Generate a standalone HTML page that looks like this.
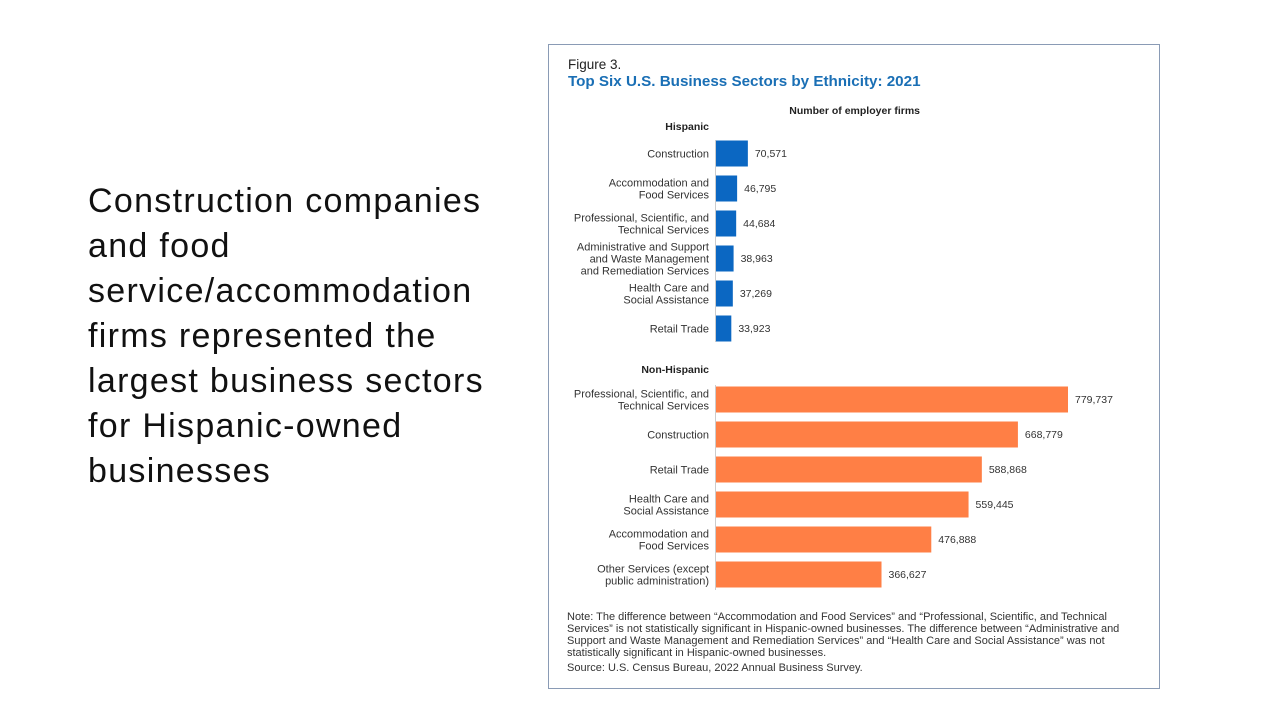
<!DOCTYPE html>
<html><head><meta charset="utf-8"><style>
body{margin:0;width:1280px;height:720px;background:#fff;overflow:hidden;position:relative;font-family:"Liberation Sans",sans-serif}
#lead{position:absolute;left:88px;top:179px;width:425px;font-size:34px;line-height:45px;color:#111;letter-spacing:1.3px}
#fig{position:absolute;left:548px;top:44px;width:612px;height:645px;border:1px solid #8a9bb5;box-sizing:border-box}
svg text{font-family:"Liberation Sans",sans-serif}
</style></head><body>
<div id="lead">Construction companies and food service/accommodation firms represented the largest business sectors for Hispanic-owned businesses</div>
<div id="fig"></div>
<svg id="chart" width="1280" height="720" style="position:absolute;left:0;top:0">
<text x="568" y="69" font-size="13.5" fill="#222">Figure 3.</text>
<text x="568" y="86" font-size="15.2" font-weight="bold" fill="#1a6fb5">Top Six U.S. Business Sectors by Ethnicity: 2021</text>
<text x="920" y="114" font-size="10.5" font-weight="bold" fill="#222" text-anchor="end">Number of employer firms</text>
<text x="709" y="130" font-size="10.5" font-weight="bold" fill="#222" text-anchor="end">Hispanic</text>
<text x="709" y="373" font-size="10.5" font-weight="bold" fill="#222" text-anchor="end">Non-Hispanic</text>
<line x1="715.5" y1="140" x2="715.5" y2="342" stroke="#ccc"/>
<line x1="715.5" y1="385" x2="715.5" y2="590" stroke="#ccc"/>
<g id="bars"></g>
<text font-size="11" fill="#333">
<tspan x="567" y="620">Note: The difference between “Accommodation and Food Services” and “Professional, Scientific, and Technical</tspan>
<tspan x="567" y="632">Services” is not statistically significant in Hispanic-owned businesses. The difference between “Administrative and</tspan>
<tspan x="567" y="644">Support and Waste Management and Remediation Services” and “Health Care and Social Assistance” was not</tspan>
<tspan x="567" y="656">statistically significant in Hispanic-owned businesses.</tspan>
</text>
<text x="567" y="671" font-size="11" fill="#333">Source: U.S. Census Bureau, 2022 Annual Business Survey.</text>
</svg>
<script>
const hispCategories=[["Construction"],["Accommodation and","Food Services"],["Professional, Scientific, and","Technical Services"],["Administrative and Support","and Waste Management","and Remediation Services"],["Health Care and","Social Assistance"],["Retail Trade"]];
const hispValues=[70571,46795,44684,38963,37269,33923];
const nonCategories=[["Professional, Scientific, and","Technical Services"],["Construction"],["Retail Trade"],["Health Care and","Social Assistance"],["Accommodation and","Food Services"],["Other Services (except","public administration)"]];
const nonValues=[779737,668779,588868,559445,476888,366627];
const NS="http://www.w3.org/2000/svg";
const x0=716, pxPer=352/779737;
function xs(v){return x0+v*pxPer;}
const g=document.getElementById('bars');
function mk(t,a){const e=document.createElementNS(NS,t);for(const k in a)e.setAttribute(k,a[k]);g.appendChild(e);return e;}
function group(cats,vals,top,color,prefix){
  vals.forEach((v,i)=>{
    const cy=top+i*35, h=26;
    const r=mk('rect',{x:x0,y:cy-h/2,width:xs(v)-x0,height:h,fill:color});
    
    
    const t=mk('text',{x:xs(v)+7,y:cy+3.5,'font-size':10.5,fill:'#333'});
    t.textContent=v.toLocaleString('en-US');
    
    
    const lines=cats[i], n=lines.length;
    const l=mk('text',{'font-size':11,fill:'#333','text-anchor':'end'});
    
    
    lines.forEach((s,j)=>{const ts=document.createElementNS(NS,'tspan');ts.setAttribute('x',709);ts.setAttribute('y',cy+4+(j-(n-1)/2)*12);ts.textContent=s;l.appendChild(ts);});
  });
}
group(hispCategories,hispValues,153.5,'#0b67c2','hispanic');
group(nonCategories,nonValues,399.5,'#ff7f45','non-hispanic');
</script>
</body></html>
